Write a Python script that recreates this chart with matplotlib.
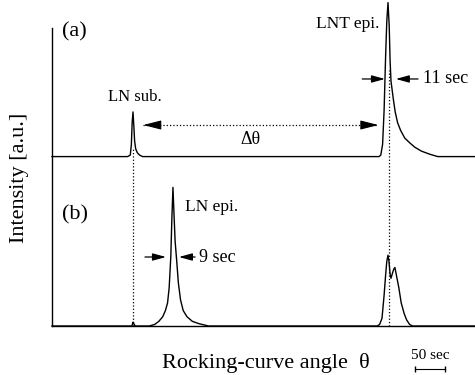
import numpy as np
import matplotlib.pyplot as plt

plt.rcParams['font.family'] = ['Liberation Serif', 'DejaVu Serif']

# rocking curve (a): LN substrate peak + LNT epi peak, angle in sec (LN sub = 0)
theta_a = [-135, -54, -18, -9, -4.5, -2.7, -1.4, 0, 1.4, 2.7, 4.5, 7.2, 10.8, 16, 54, 180,
           396, 410, 413, 416, 418.5, 421, 423, 425, 427, 428.5, 430, 434, 437, 441,
           446, 453, 461, 470, 481, 495, 508, 540, 570]
inten_a = [0, 0, 0, 0, 0.01, 0.08, 0.22, 0.29, 0.2, 0.1, 0.05, 0.025, 0.01, 0, 0, 0,
           0, 0, 0.01, 0.08, 0.3, 0.65, 0.88, 1.0, 0.85, 0.62, 0.49, 0.37, 0.29, 0.22,
           0.17, 0.12, 0.09, 0.06, 0.035, 0.015, 0, 0, 0]

# rocking curve (b): LN epi peak + LNT peak (split)
theta_b = [-135, -9, -1.8, 0, 1.4, 3.6, 27, 36, 43, 49.5, 54, 57.6, 60.3, 63, 64.8, 66.6,
           68.4, 70.2, 72.9, 75.6, 79.2, 83.7, 90, 99, 110, 126, 270, 407, 411, 415,
           418.5, 421, 423, 425, 426.6, 428.4, 430, 433, 434.7, 436.5, 439, 443, 447,
           452, 456, 461, 466, 570]
inten_b = [0, 0, 0, 0.025, 0.015, 0, 0, 0.01, 0.03, 0.06, 0.1, 0.15, 0.25, 0.45, 0.7,
           0.9, 0.72, 0.55, 0.42, 0.28, 0.17, 0.1, 0.06, 0.03, 0.015, 0, 0, 0, 0.01,
           0.05, 0.2, 0.33, 0.42, 0.46, 0.42, 0.34, 0.31, 0.35, 0.37, 0.38, 0.33, 0.25,
           0.15, 0.08, 0.04, 0.01, 0, 0]

offset_a = 1.10
peak_sub = 0
peak_lnt = 427
delta_theta = [17, 409]
fwhm_a = [420, 438]   # 11 sec markers
fwhm_b = [55, 76.5]   # 9 sec markers
scale_bar = [470, 520]  # 50 sec

fig = plt.figure(figsize=(4.75, 3.75), dpi=100)
ax = fig.add_axes([52/475, 49/375, 423/475, 298/375])

ax.plot(theta_a, np.array(inten_a) + offset_a, color='k', lw=1.0, clip_on=False)
ax.plot(theta_b, inten_b, color='k', lw=1.0, clip_on=False)

# dotted guide lines
ax.plot([peak_sub, peak_sub], [0, offset_a + 0.05], 'k:', lw=0.9)
ax.plot([peak_lnt, peak_lnt], [0, 1.66], 'k:', lw=0.9)

# delta theta double arrow
y_dt = 1.305
ax.plot(delta_theta, [y_dt, y_dt], 'k:', lw=0.9)
big_head = dict(arrowstyle='-|>,head_length=1.1,head_width=0.28', mutation_scale=10,
                color='k', lw=0.8, shrinkA=0, shrinkB=0)
ax.annotate('', xy=(delta_theta[0], y_dt), xytext=(delta_theta[0] + 13.5, y_dt), arrowprops=big_head)
ax.annotate('', xy=(delta_theta[1], y_dt), xytext=(delta_theta[1] - 13.5, y_dt), arrowprops=big_head)
ax.text(196, 1.21, 'Δθ', fontsize=13, ha='center', va='center')

# FWHM arrows
small_head = dict(arrowstyle='-|>,head_length=0.8,head_width=0.22', mutation_scale=10,
                  color='k', lw=0.9, shrinkA=0, shrinkB=0)
y11 = 1.604
ax.annotate('', xy=(fwhm_a[0], y11), xytext=(382, y11), arrowprops=small_head)
ax.annotate('', xy=(fwhm_a[1], y11), xytext=(475, y11), arrowprops=small_head)
ax.text(483, y11, '11 sec', fontsize=13, ha='left', va='center')
y9 = 0.448
ax.annotate('', xy=(fwhm_b[0], y9), xytext=(20, y9), arrowprops=small_head)
ax.annotate('', xy=(fwhm_b[1], y9), xytext=(103.5, y9), arrowprops=small_head)
ax.text(110, y9, '9 sec', fontsize=13, ha='left', va='center')

# labels
ax.text(-118, 1.91, '(a)', fontsize=16, ha='left', va='center')
ax.text(-118, 0.72, '(b)', fontsize=16, ha='left', va='center')
ax.text(3.6, 1.487, 'LN sub.', fontsize=12, ha='center', va='center')
ax.text(411, 1.96, 'LNT epi.', fontsize=12.5, ha='right', va='center')
ax.text(86, 0.77, 'LN epi.', fontsize=12.5, ha='left', va='center')

# 50 sec scale bar
ax.plot(scale_bar, [-0.28, -0.28], 'k-', lw=0.8, marker='|', ms=4, clip_on=False)
ax.text(np.mean(scale_bar), -0.19, '50 sec', fontsize=11, ha='center', va='center')

ax.set_xlim(-135, 570)
ax.set_ylim(0, 1.935)
ax.set_xticks([])
ax.set_yticks([])
for s in ['top', 'right']:
    ax.spines[s].set_visible(False)
ax.spines['left'].set_linewidth(1.0)
ax.spines['bottom'].set_linewidth(1.0)

fig.text(20/475, 1 - 178/375, 'Intensity [a.u.]', rotation=90, fontsize=16,
         ha='center', va='center')
fig.text(266/475, 1 - 363/375, 'Rocking-curve angle  θ', fontsize=16,
         ha='center', va='center')

fig.savefig('out.png', dpi=100)
